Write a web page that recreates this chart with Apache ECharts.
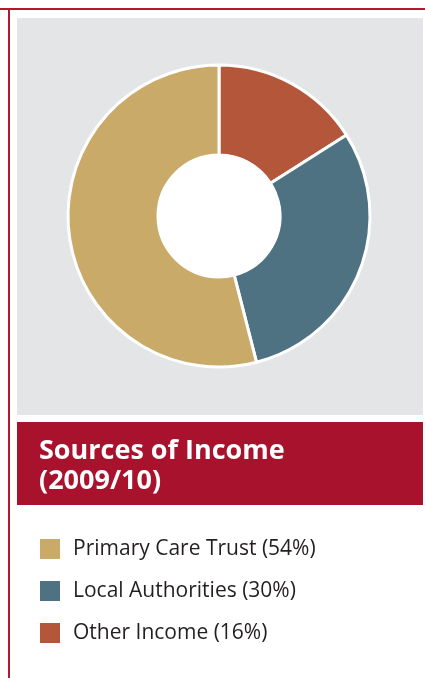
<!DOCTYPE html>
<html>
<head>
<meta charset="utf-8">
<script src="https://cdn.jsdelivr.net/npm/echarts@6/dist/echarts.min.js"></script>
<style>
  html, body { margin: 0; padding: 0; background: #fff; }
  #main { width: 425px; height: 678px; }
</style>
</head>
<body>
<div id="main"></div>
<script>
// 数据
var categories = ['Primary Care Trust', 'Local Authorities', 'Other Income'];
var shares = [54, 30, 16];
var colors = ['#c9aa68', '#4e7282', '#b3563a'];

var chart = echarts.init(document.getElementById('main'));

// pie goes clockwise from 12 o'clock starting with "Other Income"
var pieData = [];
for (var i = categories.length - 1; i >= 0; i--) {
    pieData.push({
        name: categories[i],
        value: shares[i],
        itemStyle: { color: colors[i] }
    });
}

var option = {
    animation: false,
    graphic: [
        // red frame
        { type: 'rect', shape: { x: 0, y: 8, width: 425, height: 2 }, style: { fill: '#b5172f' }, z: 0 },
        { type: 'rect', shape: { x: 8, y: 8, width: 2, height: 670 }, style: { fill: '#b5172f' }, z: 0 },
        // grey panel
        { type: 'rect', shape: { x: 17, y: 18, width: 406, height: 397 }, style: { fill: '#e4e5e7' }, z: 0 },
        // banner
        { type: 'rect', shape: { x: 17, y: 422, width: 406, height: 83 }, style: { fill: '#a8122d' }, z: 0 }
    ],
    title: {
        text: 'Sources of Income\n(2009/10)',
        left: 39,
        top: 436,
        padding: 0,
        textStyle: {
            color: '#fff',
            fontFamily: 'Open Sans',
            fontWeight: 'bold',
            fontSize: 27,
            lineHeight: 30
        }
    },
    legend: {
        orient: 'vertical',
        left: 38,
        top: 537,
        padding: 0,
        icon: 'rect',
        itemWidth: 22,
        itemHeight: 22,
        itemGap: 18,
        data: categories,
        formatter: function (name) {
            return name + ' (' + shares[categories.indexOf(name)] + '%)';
        },
        textStyle: {
            color: '#231f20',
            fontFamily: 'Open Sans',
            fontSize: 21,
            padding: [6, 0, 0, 7]
        },
        selectedMode: false
    },
    series: [{
        type: 'pie',
        name: 'income',
        center: [219, 216],
        radius: [61, 151],
        startAngle: 90,
        clockwise: true,
        label: { show: false },
        labelLine: { show: false },
        itemStyle: { borderColor: '#fff', borderWidth: 3 },
        emphasis: { disabled: true },
        data: pieData
    }, {
        // white centre of the ring
        type: 'pie',
        name: 'hole',
        center: [219, 216],
        radius: [0, 62],
        silent: true,
        label: { show: false },
        labelLine: { show: false },
        itemStyle: { color: '#fff' },
        data: [{ name: 'hole', value: 1 }]
    }]
};

chart.setOption(option);
</script>
</body>
</html>
